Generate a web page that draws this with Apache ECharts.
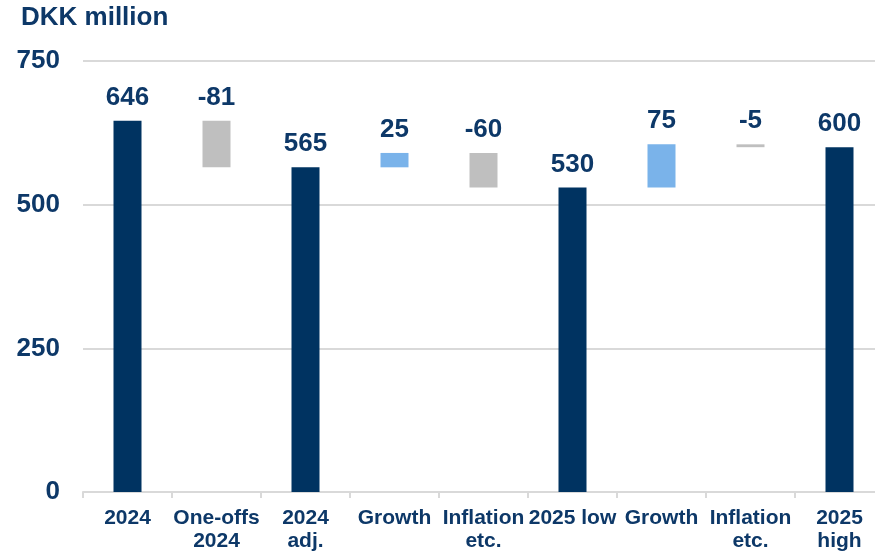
<!DOCTYPE html>
<html>
<head>
<meta charset="utf-8">
<script src="https://cdn.jsdelivr.net/npm/echarts@6/dist/echarts.min.js"></script>
<style>
  html, body { margin: 0; padding: 0; background: #fff; }
  #wrap { width: 875px; height: 553px; overflow: hidden; position: relative; }
  /* 图表比窗口宽一点，最右边被裁掉 */
  #chart { width: 885px; height: 553px; position: absolute; left: 0; top: 0; }
</style>
</head>
<body>
<div id="wrap"><div id="chart"></div></div>
<script>
// 瀑布图数据
var categories = ['2024', 'One-offs\n2024', '2024\nadj.', 'Growth', 'Inflation\netc.', '2025 low', 'Growth', 'Inflation\netc.', '2025\nhigh'];
var values = [646, -81, 565, 25, -60, 530, 75, -5, 600];
var kinds = ['total', 'change', 'total', 'change', 'change', 'total', 'change', 'change', 'total'];
var yTicks = [0, 250, 500, 750];

var NAVY = '#003361';
var TEXT = '#0D3868';
var GREY = '#BFBFBF';
var BLUE = '#7AB3EA';
var FONT = '"Liberation Sans", Arial, sans-serif';

// 计算透明底座和可见高度
var base = [];
var shown = [];
var running = 0;
values.forEach(function (v, i) {
  if (kinds[i] === 'total') {
    running = v;
    base.push(0);
    shown.push({ value: v, itemStyle: { color: NAVY } });
  } else {
    var from = running;
    running = from + v;
    base.push(Math.min(from, running));
    shown.push({ value: Math.abs(v), itemStyle: { color: v < 0 ? GREY : BLUE } });
  }
});

var chart = echarts.init(document.getElementById('chart'));

chart.setOption({
  animation: false,
  title: {
    text: 'DKK million',
    left: 16,
    top: 0,
    textStyle: { color: TEXT, fontSize: 26, fontWeight: 'bold', fontFamily: FONT }
  },
  grid: { left: 83, right: 1, top: 61, bottom: 60 },
  xAxis: {
    type: 'category',
    data: categories,
    axisLine: { lineStyle: { color: '#D9D9D9', width: 2 } },
    axisTick: { show: true, length: 6, lineStyle: { color: '#D9D9D9', width: 2 } },
    axisLabel: {
      interval: 0,
      margin: 15,
      color: TEXT,
      fontSize: 21,
      lineHeight: 23,
      fontWeight: 'bold',
      fontFamily: FONT
    }
  },
  yAxis: {
    type: 'value',
    min: yTicks[0],
    max: yTicks[yTicks.length - 1],
    interval: yTicks[1] - yTicks[0],
    axisLine: { show: false },
    axisTick: { show: false },
    splitLine: { lineStyle: { color: '#D9D9D9', width: 2 } },
    axisLabel: {
      margin: 23,
      color: TEXT,
      fontSize: 26,
      fontWeight: 'bold',
      fontFamily: FONT
    }
  },
  series: [
    {
      type: 'bar',
      stack: 'wf',
      barWidth: 28,
      silent: true,
      itemStyle: { color: 'transparent' },
      data: base
    },
    {
      type: 'bar',
      stack: 'wf',
      barWidth: 28,
      data: shown,
      label: {
        show: true,
        position: 'top',
        distance: 10,
        color: TEXT,
        fontSize: 26,
        fontWeight: 'bold',
        fontFamily: FONT,
        formatter: function (p) {
          return values[p.dataIndex];
        }
      }
    }
  ]
});
</script>
</body>
</html>
